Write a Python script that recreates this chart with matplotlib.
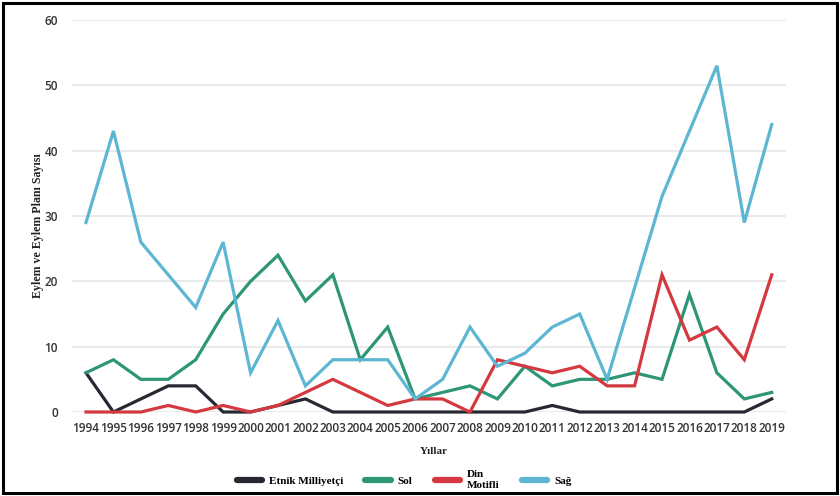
import matplotlib
matplotlib.use("Agg")
import matplotlib.pyplot as plt
from matplotlib.patches import Rectangle

years = list(range(1994, 2020))
etnik = [6, 0, 2, 4, 4, 0, 0, 1, 2, 0, 0, 0, 0, 0, 0, 0, 0, 1, 0, 0, 0, 0, 0, 0, 0, 2]
sol = [6, 8, 5, 5, 8, 15, 20, 24, 17, 21, 8, 13, 2, 3, 4, 2, 7, 4, 5, 5, 6, 5, 18, 6, 2, 3]
din = [0, 0, 0, 1, 0, 1, 0, 1, 3, 5, 3, 1, 2, 2, 0, 8, 7, 6, 7, 4, 4, 21, 11, 13, 8, 21]
sag = [29, 43, 26, 21, 16, 26, 6, 14, 4, 8, 8, 8, 2, 5, 13, 7, 9, 13, 15, 5, 19, 33, 43, 53, 29, 44]
yticks = [0, 10, 20, 30, 40, 50, 60]

series = [
    ("Etnik Milliyetçi", etnik, "#262833"),
    ("Sol", sol, "#2e9677"),
    ("Din\nMotifli", din, "#d3393f"),
    ("Sağ", sag, "#5db6d2"),
]

fig = plt.figure(figsize=(8.4, 4.96), dpi=100)
W, H = 840, 496
ax = fig.add_axes([72 / W, (H - 412) / H, (786 - 72) / W, (412 - 20) / H])

for name, vals, col in series:
    ax.plot(years, vals, color=col, lw=2.3, label=name, clip_on=False,
            solid_joinstyle="miter")

ax.set_xlim(1993.49, 2019.52)
ax.set_ylim(0, 60)
ax.set_yticks(yticks)
ax.set_xticks(years)
ax.set_xticklabels([str(y) for y in years])
ax.grid(axis="y", color="#e6e6e6", lw=1.2)
ax.set_axisbelow(True)
for s in ax.spines.values():
    s.set_visible(False)
ax.tick_params(axis="both", length=0, labelsize=8.5, labelcolor="#333333")
ax.tick_params(axis="x", pad=7)
ax.tick_params(axis="y", pad=10)
for lbl in ax.get_xticklabels() + ax.get_yticklabels():
    lbl.set_fontweight("semibold")
    lbl.set_family("Open Sans")

fig.text(38 / W, (H - 226) / H, "Eylem ve Eylem Planı Sayısı", rotation=90,
         ha="center", va="center", family="Liberation Serif",
         fontweight="bold", fontsize=8.6, color="#222222")
fig.text(434 / W, (H - 452) / H, "Yıllar", ha="center", va="center",
         family="Liberation Serif", fontweight="bold", fontsize=8,
         color="#222222")

leg = fig.legend(loc="center", bbox_to_anchor=(404 / W, (H - 480) / H), ncol=4,
                 frameon=False, handlelength=2.3, handletextpad=0.6,
                 columnspacing=2.0,
                 prop={"family": "Liberation Serif", "weight": "bold", "size": 8})
for h in leg.get_lines():
    h.set_linewidth(4.5)
    h.set_solid_capstyle("round")

fig.add_artist(Rectangle((3 / W, 3 / H), (837 - 3) / W, (493 - 3) / H,
                         transform=fig.transFigure, fill=False, lw=2.2,
                         edgecolor="black"))

fig.savefig("out.png", dpi=100)
